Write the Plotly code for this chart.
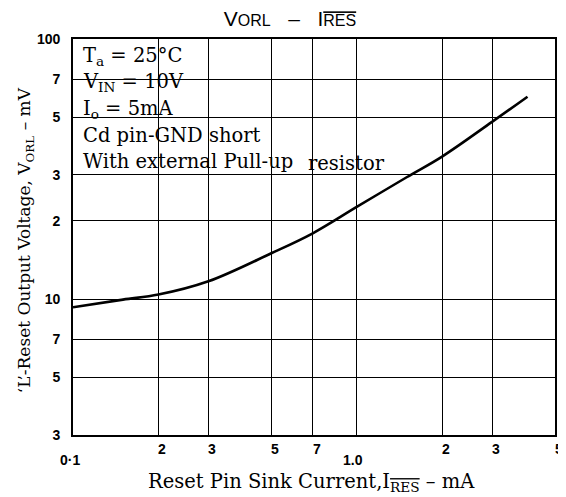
import math
import plotly.graph_objects as go

# Data
current_mA = [0.1, 0.15, 0.2, 0.3, 0.5, 0.7, 1.0, 1.5, 2.0, 3.0, 4.0]
voltage_mV = [9.3, 9.95, 10.4, 11.7, 15.0, 17.9, 22.6, 29.4, 35.3, 48.0, 60.0]

x_grid = [0.1, 0.2, 0.3, 0.5, 0.7, 1.0, 2.0, 3.0, 5.0]
x_labels = ["0·1", "2", "3", "5", "7", "1.0", "2", "3", "5"]
y_grid = [3, 5, 7, 10, 20, 30, 50, 70, 100]
y_labels = ["3", "5", "7", "10", "2", "3", "5", "7", "100"]

cond_lines = [
    "T<sub>a</sub> = 25°C",
    "V<sub>IN</sub> = 10V",
    "I<sub>o</sub> = 5mA",
    "Cd pin-GND short",
    "With external Pull-up",
]

OVL = "text-decoration:overline"
SERIF = "DejaVu Serif"
SANS = "Liberation Sans"

# page offset of the browser's default body margin
OFF = 8
FIG_W, FIG_H = 566 - OFF, 497 - OFF


def px_to_paper(px, py):
    # px, py are page pixel coordinates (as in the reference)
    return (px - 73) / 484, (435 - py) / 396


fig = go.Figure()
fig.add_trace(go.Scatter(
    x=current_mA, y=voltage_mV, mode="lines",
    line=dict(color="black", width=2.6, shape="spline", smoothing=1.0),
    showlegend=False, hoverinfo="skip",
))

annotations = []
# x tick labels
for v, lab in zip(x_grid, x_labels):
    decade = lab in ("0·1", "1.0")
    annotations.append(dict(
        x=math.log10(v), y=0, xref="x", yref="paper",
        text=lab, showarrow=False, yanchor="top",
        yshift=-15 if decade else -4,
        xshift=-3 if lab == "0·1" else (-4 if lab == "1.0" else 4),
        font=dict(family=SANS, size=14, color="black", weight="bold"),
    ))

# condition text lines
cond_y = [57, 82, 109, 136, 161]
for t, yy in zip(cond_lines, cond_y):
    ax, ay = px_to_paper(81, yy)
    annotations.append(dict(
        x=ax, y=ay, xref="paper", yref="paper", text=t,
        showarrow=False, xanchor="left", yanchor="middle",
        font=dict(family=SERIF, size=19.5, color="black"),
    ))
ax, ay = px_to_paper(307, 163)
annotations.append(dict(
    x=ax, y=ay, xref="paper", yref="paper", text="resistor",
    showarrow=False, xanchor="left", yanchor="middle",
    font=dict(family=SERIF, size=19.5, color="black"),
))

# x-axis title
ax, ay = px_to_paper(312, 483)
annotations.append(dict(
    x=ax, y=ay, xref="paper", yref="paper",
    text="Reset Pin Sink Current,I<sub><span style='%s'>RES</span></sub> – mA" % OVL,
    showarrow=False, yanchor="middle", xanchor="center",
    font=dict(family=SERIF, size=19.5, color="black"),
))
# y-axis title
ax, ay = px_to_paper(25, 240)
annotations.append(dict(
    x=ax, y=ay, xref="paper", yref="paper",
    text="‘L’-Reset Output Voltage, V<sub>ORL</sub> – mV",
    showarrow=False, textangle=-90, xanchor="center", yanchor="middle",
    font=dict(family=SERIF, size=17, color="black"),
))

fig.update_layout(
    width=FIG_W, height=FIG_H,
    margin=dict(l=73 - OFF, r=9, t=39 - OFF, b=62),
    paper_bgcolor="white", plot_bgcolor="white",
    title=dict(
        text="V<span style='font-size:16px'>ORL</span>   –   I<span style='font-size:16px;%s'>RES</span>" % OVL,
        x=(290 - OFF) / FIG_W, xanchor="center", y=1 - (19 - OFF) / FIG_H, yanchor="middle",
        font=dict(family=SANS, size=21, color="black"),
    ),
    xaxis=dict(
        type="log", range=[math.log10(0.1), math.log10(5)],
        tickvals=x_grid, showticklabels=False, ticks="",
        showgrid=True, gridcolor="black", gridwidth=1.4,
        showline=True, linecolor="black", linewidth=1.6, mirror=True,
        zeroline=False,
    ),
    yaxis=dict(
        type="log", range=[math.log10(3), 2],
        tickvals=y_grid, ticktext=y_labels, ticks="",
        ticklabelstandoff=8,
        tickfont=dict(family=SANS, size=14, color="black", weight="bold"),
        showgrid=True, gridcolor="black", gridwidth=1.4,
        showline=True, linecolor="black", linewidth=1.6, mirror=True,
        zeroline=False,
    ),
    annotations=annotations,
)

fig.write_html("out.html")
